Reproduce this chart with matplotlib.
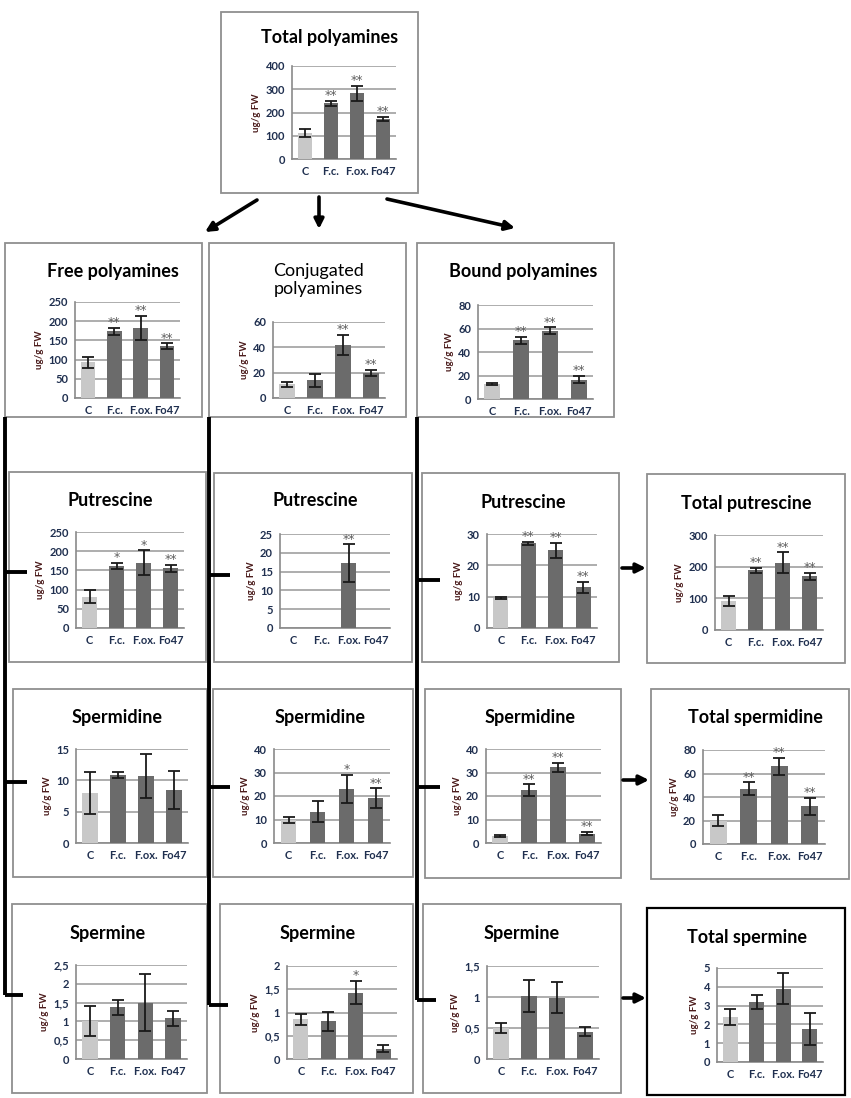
import matplotlib
matplotlib.use("Agg")
import matplotlib.pyplot as plt
import numpy as np
from matplotlib.patches import Rectangle, FancyArrowPatch
from matplotlib.lines import Line2D
from matplotlib.ticker import FuncFormatter, MultipleLocator

plt.rcParams['font.family'] = ['Lato', 'DejaVu Sans']

categories = ['C', 'F.c.', 'F.ox.', 'Fo47']

# values (ug/g FW), error bars and significance marks
total_pa = [113, 240, 283, 172]
total_pa_err = [18, 10, 32, 9]
total_pa_sig = ['', '**', '**', '**']

free_pa = [93, 174, 182, 135]
free_pa_err = [15, 9, 32, 7]
free_pa_sig = ['', '**', '**', '**']

conj_pa = [11, 14, 42, 20]
conj_pa_err = [2, 5, 8, 2.5]
conj_pa_sig = ['', '', '**', '**']

bound_pa = [13, 50, 58, 16.5]
bound_pa_err = [0.8, 3, 3, 3]
bound_pa_sig = ['', '**', '**', '**']

free_put = [82, 162, 170, 156]
free_put_err = [16, 8, 32, 9]
free_put_sig = ['', '*', '*', '**']

conj_put = [0, 0, 17.3, 0]
conj_put_err = [0, 0, 5, 0]
conj_put_sig = ['', '', '**', '']

bound_put = [9.5, 27, 24.8, 13]
bound_put_err = [0.4, 0.5, 2.3, 1.7]
bound_put_sig = ['', '**', '**', '**']

total_put = [92, 188, 212, 170]
total_put_err = [16, 8, 33, 11]
total_put_sig = ['', '**', '**', '**']

free_spd = [8, 10.8, 10.7, 8.5]
free_spd_err = [3.4, 0.5, 3.5, 3]
free_spd_sig = ['', '', '', '']

conj_spd = [9.8, 13.3, 23, 19]
conj_spd_err = [1.3, 4.5, 6, 4.3]
conj_spd_sig = ['', '', '*', '**']

bound_spd = [3, 22.5, 32.2, 4]
bound_spd_err = [0.6, 2.4, 2, 0.8]
bound_spd_sig = ['', '**', '**', '**']

total_spd = [20, 47, 66, 32]
total_spd_err = [5, 5.5, 7.5, 7.5]
total_spd_sig = ['', '**', '**', '**']

free_spm = [1.02, 1.37, 1.5, 1.08]
free_spm_err = [0.4, 0.2, 0.75, 0.19]
free_spm_sig = ['', '', '', '']

conj_spm = [0.85, 0.81, 1.43, 0.22]
conj_spm_err = [0.12, 0.2, 0.25, 0.08]
conj_spm_sig = ['', '', '*', '']

bound_spm = [0.5, 1.02, 0.99, 0.44]
bound_spm_err = [0.08, 0.26, 0.25, 0.07]
bound_spm_sig = ['', '', '', '']

total_spm = [2.4, 3.2, 3.9, 1.75]
total_spm_err = [0.43, 0.38, 0.83, 0.85]
total_spm_sig = ['', '', '', '']

W, H = 851, 1098
fig = plt.figure(figsize=(W / 100, H / 100), dpi=100)

def fx(x):
    return x / W

def fy(y):
    return 1 - y / H

def box(l, t, r, b, color='#8f8f8f', lw=1.3):
    fig.add_artist(Rectangle((fx(l), fy(b)), (r - l) / W, (b - t) / H,
                             transform=fig.transFigure, fill=False,
                             ec=color, lw=lw))

def line(xs, ys):
    fig.add_artist(Line2D([fx(x) for x in xs], [fy(y) for y in ys],
                          transform=fig.transFigure, color='black', lw=2.8,
                          solid_capstyle='butt'))

def arrow(x0, y0, x1, y1):
    fig.add_artist(FancyArrowPatch((fx(x0), fy(y0)), (fx(x1), fy(y1)),
                                   transform=fig.transFigure, arrowstyle='-|>',
                                   mutation_scale=14, lw=2.6, color='black',
                                   shrinkA=0, shrinkB=0))

comma = FuncFormatter(lambda v, p: ('%g' % v).replace('.', ','))

def panel(title, vals, errs, sig, ymax, step, boxr, axr, tpos,
          bold=True, boxcolor='#8f8f8f', boxlw=1.3):
    box(*boxr, color=boxcolor, lw=boxlw)
    l, t, r, b = axr
    ax = fig.add_axes([fx(l), fy(b), (r - l) / W, (b - t) / H])
    x = np.arange(len(categories))
    colors = ['#c8c8c8'] + ['#6b6b6b'] * 3
    ax.bar(x, vals, 0.55, color=colors, zorder=3)
    e = np.array(errs, dtype=float)
    m = e > 0
    ax.errorbar(x[m], np.array(vals)[m], yerr=e[m], fmt='none', ecolor='#1a1a1a',
                elinewidth=1.3, capsize=4, capthick=1.3, zorder=4)
    for i in range(len(vals)):
        if sig[i]:
            ax.annotate(sig[i], (x[i], vals[i] + errs[i]), xytext=(0, -1),
                        textcoords='offset points', ha='center', va='bottom',
                        fontsize=9, family='DejaVu Sans', color='#5e5e5e',
                        zorder=5)
    ax.set_xlim(-0.5, 3.5)
    ax.set_ylim(0, ymax)
    ax.yaxis.set_major_locator(MultipleLocator(step))
    ax.yaxis.set_major_formatter(comma)
    ax.grid(axis='y', color='#a0a0a0', lw=1.2, zorder=0)
    ax.set_axisbelow(True)
    ax.set_xticks(x)
    ax.set_xticklabels(categories)
    ax.tick_params(length=0, labelsize=8, labelcolor='#1f2f4f', pad=5)
    for lab in ax.get_xticklabels() + ax.get_yticklabels():
        lab.set_fontweight('bold')
    for s in ['top', 'right']:
        ax.spines[s].set_visible(False)
    for s in ['left', 'bottom']:
        ax.spines[s].set_color('#8a8a8a')
        ax.spines[s].set_linewidth(1.2)
    ax.set_facecolor('none')
    ax.set_ylabel('ug/g FW', fontsize=7, fontweight='bold', color='#4b1c1c',
                  labelpad=3)
    fig.text(fx(tpos[0]), fy(tpos[1]), title, ha='center', va='center',
             fontsize=13, fontweight='bold' if bold else 'normal',
             color='black', linespacing=1.2)
    return ax

panel('Total polyamines', total_pa, total_pa_err, total_pa_sig, 400, 100,
      (221, 12, 418, 193), (292, 66, 396, 159), (330, 37))
panel('Free polyamines', free_pa, free_pa_err, free_pa_sig, 250, 50,
      (5, 243, 202, 417), (75, 302, 180, 398), (113, 272))
panel('Conjugated\npolyamines', conj_pa, conj_pa_err, conj_pa_sig, 60, 20,
      (209, 243, 406, 417), (273, 322, 385, 398), (318, 280), bold=False)
panel('Bound polyamines', bound_pa, bound_pa_err, bound_pa_sig, 80, 20,
      (417, 243, 614, 417), (478, 305, 593, 399), (523, 272))

panel('Putrescine', free_put, free_put_err, free_put_sig, 250, 50,
      (9, 472, 206, 662), (76, 532, 184, 628), (110, 500))
panel('Putrescine', conj_put, conj_put_err, conj_put_sig, 25, 5,
      (214, 473, 412, 662), (280, 534, 390, 628), (315, 501))
panel('Putrescine', bound_put, bound_put_err, bound_put_sig, 30, 10,
      (422, 473, 619, 662), (487, 534, 597, 628), (523, 502))
panel('Total putrescine', total_put, total_put_err, total_put_sig, 300, 100,
      (647, 474, 845, 663), (715, 535, 823, 630), (746, 503))

panel('Spermidine', free_spd, free_spd_err, free_spd_sig, 15, 5,
      (13, 689, 207, 877), (76, 749, 188, 843), (117, 717))
panel('Spermidine', conj_spd, conj_spd_err, conj_spd_sig, 40, 10,
      (213, 689, 413, 877), (274, 749, 390, 843), (320, 717))
panel('Spermidine', bound_spd, bound_spd_err, bound_spd_sig, 40, 10,
      (425, 689, 621, 878), (486, 749, 601, 843), (530, 717))
panel('Total spermidine', total_spd, total_spd_err, total_spd_sig, 80, 20,
      (651, 689, 849, 879), (703, 750, 825, 844), (755, 718))

panel('Spermine', free_spm, free_spm_err, free_spm_sig, 2.5, 0.5,
      (12, 904, 207, 1093), (76, 965, 187, 1059), (108, 933))
panel('Spermine', conj_spm, conj_spm_err, conj_spm_sig, 2, 0.5,
      (220, 904, 413, 1093), (287, 966, 397, 1059), (318, 933))
panel('Spermine', bound_spm, bound_spm_err, bound_spm_sig, 1.5, 0.5,
      (423, 904, 621, 1093), (487, 966, 599, 1059), (522, 933))
panel('Total spermine', total_spm, total_spm_err, total_spm_sig, 5, 1,
      (647, 908, 845, 1095), (717, 968, 823, 1062), (747, 938),
      boxcolor='black', boxlw=1.6)

# arrows from the top box
arrow(257, 200, 205, 232)
arrow(319, 197, 319, 229)
arrow(387, 199, 515, 228)

# tree connectors
line([5, 5], [417, 995]);       line([5, 27], [572, 572])
line([5, 27], [782, 782]);      line([5, 23], [995, 995])
line([209, 209], [417, 1005]);  line([209, 230], [575, 575])
line([209, 230], [787, 787]);   line([209, 228], [1005, 1005])
line([417, 417], [417, 1000]);  line([417, 440], [580, 580])
line([417, 440], [787, 787]);   line([417, 436], [1000, 1000])

# arrows into the total boxes
arrow(622, 568, 646, 568)
arrow(623, 780, 649, 780)
arrow(623, 998, 646, 998)

fig.savefig('out.png', dpi=100, facecolor='white')
